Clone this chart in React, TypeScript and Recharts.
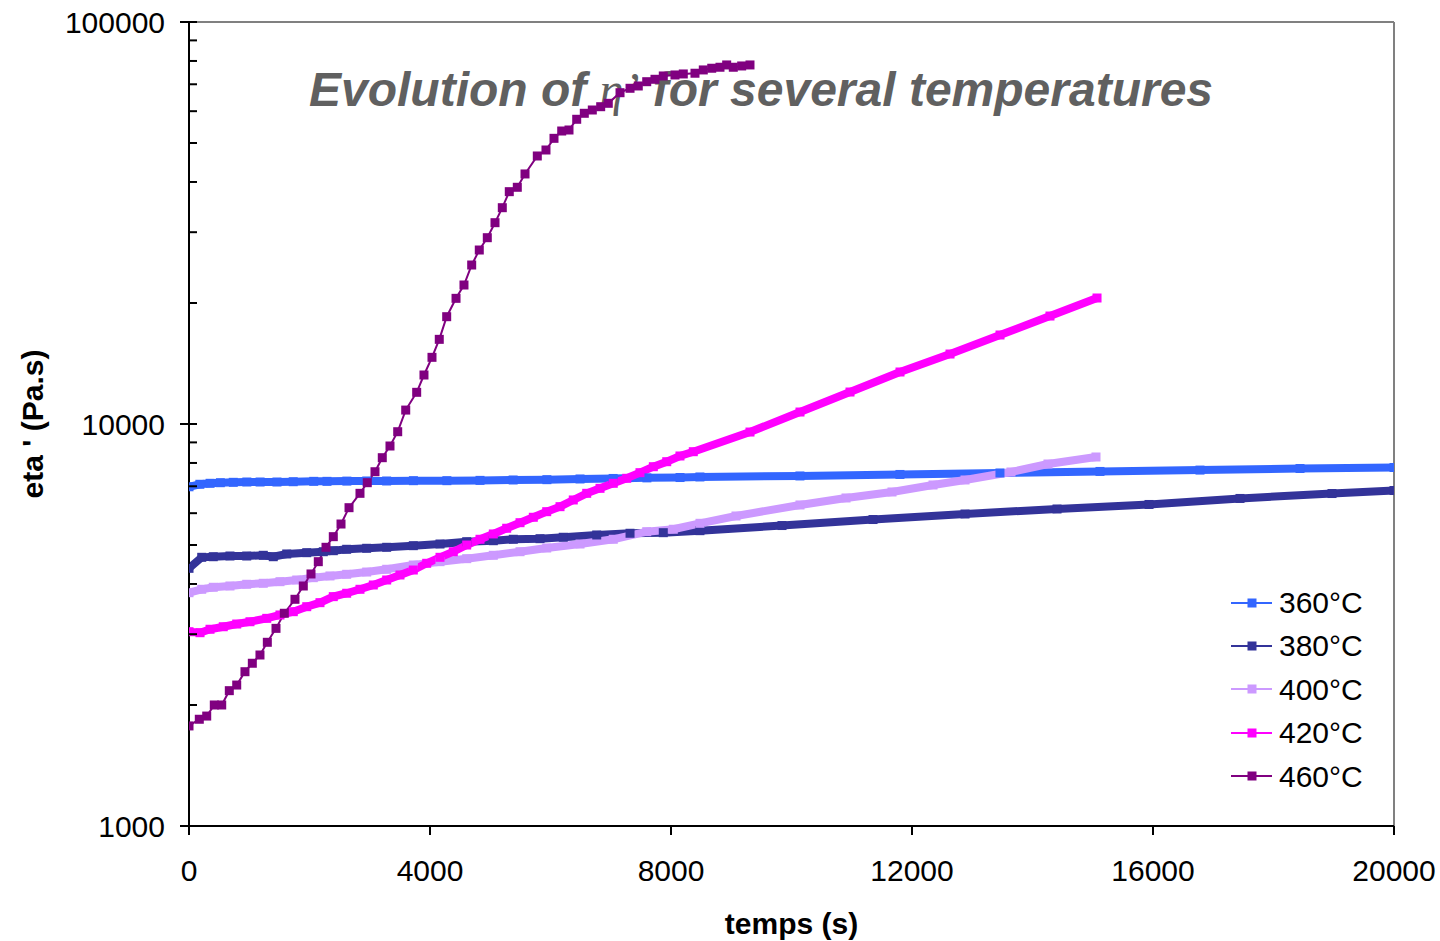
import React from "react";
import { LineChart, Line, XAxis, YAxis, ReferenceLine, Legend } from "recharts";

// time (s) and eta' (Pa.s), one pair of arrays per temperature
const T360 = [0, 180, 350, 520, 735, 960, 1180, 1460, 1730, 2070, 2290, 2620, 2950, 3280, 3725, 4280, 4830, 5380, 5940, 6490, 7040, 7600, 8150, 8480, 10140, 11800, 13460, 15120, 16780, 18440, 20000];
const V360 = [6980, 7080, 7120, 7145, 7160, 7173, 7173, 7173, 7185, 7200, 7200, 7210, 7215, 7215, 7228, 7228, 7240, 7257, 7270, 7299, 7320, 7345, 7360, 7383, 7426, 7490, 7554, 7620, 7680, 7750, 7795];

const T380 = [0, 211, 403, 680, 958, 1233, 1399, 1622, 1954, 2229, 2395, 2617, 2949, 3281, 3723, 4166, 4609, 5051, 5383, 5826, 6212, 6767, 7320, 7872, 8480, 9842, 11353, 12880, 14407, 15934, 17444, 18971, 20000];
const V380 = [4375, 4660, 4676, 4695, 4695, 4714, 4676, 4750, 4785, 4812, 4840, 4879, 4907, 4935, 4981, 5029, 5096, 5125, 5167, 5185, 5227, 5296, 5348, 5366, 5428, 5590, 5786, 5972, 6146, 6307, 6528, 6715, 6832];

const T400 = [0, 211, 403, 680, 958, 1233, 1510, 1788, 2063, 2340, 2617, 2949, 3281, 3723, 4166, 4609, 5051, 5494, 5937, 6490, 7042, 7597, 8038, 8481, 9079, 10141, 10905, 11668, 12349, 12880, 13643, 14257, 15054];
const V400 = [3805, 3880, 3925, 3954, 3993, 4016, 4053, 4092, 4147, 4188, 4228, 4283, 4351, 4459, 4545, 4624, 4714, 4812, 4915, 5029, 5167, 5397, 5472, 5662, 5904, 6289, 6546, 6775, 7052, 7257, 7596, 7952, 8278];

const T420 = [0, 183, 349, 569, 792, 1012, 1290, 1510, 1731, 1954, 2174, 2395, 2617, 2838, 3059, 3281, 3502, 3723, 3945, 4166, 4387, 4609, 4830, 5051, 5273, 5494, 5715, 5937, 6158, 6378, 6601, 6822, 7042, 7265, 7485, 7707, 7929, 8149, 8370, 9311, 10141, 10971, 11801, 12631, 13461, 14290, 15071];
const V420 = [3043, 3026, 3086, 3131, 3180, 3222, 3285, 3349, 3413, 3512, 3594, 3720, 3793, 3880, 3977, 4092, 4211, 4333, 4503, 4660, 4812, 5000, 5167, 5327, 5504, 5682, 5861, 6052, 6228, 6472, 6723, 6918, 7120, 7327, 7567, 7830, 8058, 8326, 8533, 9550, 10710, 12010, 13470, 14930, 16650, 18560, 20580];

const T460 = [0, 171, 294, 420, 543, 669, 792, 929, 1051, 1178, 1300, 1444, 1582, 1759, 1897, 2025, 2146, 2274, 2395, 2523, 2656, 2838, 2959, 3087, 3208, 3336, 3464, 3597, 3779, 3900, 4033, 4154, 4277, 4432, 4564, 4692, 4818, 4951, 5079, 5200, 5316, 5449, 5577, 5781, 5925, 6058, 6186, 6307, 6435, 6561, 6694, 6833, 6959, 7154, 7320, 7457, 7597, 7734, 7872, 8066, 8204, 8398, 8536, 8676, 8813, 8924, 9034, 9173, 9311];
const V460 = [1774, 1843, 1877, 2000, 2000, 2171, 2242, 2420, 2540, 2663, 2864, 3102, 3382, 3664, 3954, 4236, 4545, 4935, 5245, 5639, 6192, 6723, 7145, 7608, 8245, 8816, 9568, 10830, 11990, 13240, 14650, 16240, 18490, 20540, 22170, 24860, 27090, 29070, 31680, 34520, 37840, 38800, 41880, 46420, 48040, 51360, 53560, 53870, 57280, 59280, 60410, 61560, 62770, 66700, 68410, 69320, 71040, 72030, 73410, 73830, 74260, 74570, 75990, 76730, 77170, 78190, 77170, 77740, 78190];

const X_TICKS = [0, 4000, 8000, 12000, 16000, 20000];
const Y_MAJOR = [1000, 10000, 100000];
const Y_MINOR = [2000, 3000, 4000, 5000, 6000, 7000, 8000, 9000, 20000, 30000, 40000, 50000, 60000, 70000, 80000, 90000];

const FONT = "'Liberation Sans', Arial, sans-serif";
const Y_TICK_SIZE = 8;
const Y_TICK_MARGIN = 16;

const toRows = (t: number[], v: number[]) => t.map((x, i) => ({ t: x, v: v[i] }));

const series = [
  { name: "360°C", color: "#3366FF", data: toRows(T360, V360), dense: true },
  { name: "380°C", color: "#333399", data: toRows(T380, V380), dense: true },
  { name: "400°C", color: "#CC99FF", data: toRows(T400, V400), dense: true },
  { name: "420°C", color: "#FF00FF", data: toRows(T420, V420), dense: true },
  { name: "460°C", color: "#800080", data: toRows(T460, V460), dense: false },
];

// square marker like the spreadsheet one
const squareDot = (size: number, color: string) => (props: any) => {
  const { cx, cy, index } = props;
  if (cx == null || cy == null) return <g key={index} />;
  return <rect key={index} x={cx - size / 2} y={cy - size / 2} width={size} height={size} fill={color} />;
};

const YTick = (props: any) => {
  const { x, y, payload } = props;
  const ax = x + Y_TICK_SIZE + Y_TICK_MARGIN; // axis line position
  const major = Y_MAJOR.includes(payload.value);
  return (
    <g>
      <line x1={major ? ax - 9 : ax} x2={ax + 8} y1={y} y2={y} stroke="#000" strokeWidth={2} />
      {major && (
        <text x={x} y={y} dy="0.355em" textAnchor="end" fontSize={30} fontFamily={FONT} fill="#000">
          {payload.value}
        </text>
      )}
    </g>
  );
};

const YTitle = (props: any) => {
  const { viewBox } = props;
  const x = viewBox.x + 43;
  const y = viewBox.y + viewBox.height / 2;
  return (
    <text x={x} y={y} transform={`rotate(-90, ${x}, ${y})`} textAnchor="middle" fontSize={30} fontWeight="bold" fontFamily={FONT} fill="#000">
      eta ' (Pa.s)
    </text>
  );
};

const XTitle = (props: any) => {
  const { viewBox } = props;
  return (
    <text x={viewBox.x + viewBox.width / 2} y={viewBox.y + 108} textAnchor="middle" fontSize={30} fontWeight="bold" fontFamily={FONT} fill="#000">
      temps (s)
    </text>
  );
};

const renderLegend = (props: any) => {
  const { payload } = props;
  return (
    <div style={{ fontFamily: FONT, fontSize: 30, color: "#000" }}>
      {(payload || []).map((p: any) => (
        <div key={p.value} style={{ display: "flex", alignItems: "center", height: 43.4 }}>
          <svg width={53} height={12}>
            <line x1={5} x2={46} y1={6} y2={6} stroke={p.color} strokeWidth={2} />
            <rect x={21.5} y={1.5} width={9} height={9} fill={p.color} />
          </svg>
          <span style={{ lineHeight: "43.4px" }}>{p.value}</span>
        </div>
      ))}
    </div>
  );
};

const App = () => {
  return (
    <div style={{ position: "absolute", left: 0, top: 0, width: 1440, height: 941, background: "#fff" }}>
      <LineChart width={1440} height={941} margin={{ top: 22, right: 46, bottom: 0, left: 0 }}>
        <XAxis
          type="number"
          dataKey="t"
          domain={[0, 20000]}
          ticks={X_TICKS}
          interval={0}
          allowDataOverflow
          height={115}
          tickSize={9}
          tickMargin={25}
          tick={{ fontSize: 30, fill: "#000", fontFamily: FONT }}
          axisLine={{ stroke: "#000", strokeWidth: 2 }}
          tickLine={{ stroke: "#000", strokeWidth: 2 }}
          label={<XTitle />}
        />
        <YAxis
          type="number"
          scale="log"
          domain={[1000, 100000]}
          ticks={[...Y_MAJOR, ...Y_MINOR].sort((a, b) => a - b)}
          interval={0}
          allowDataOverflow
          width={189}
          tickSize={Y_TICK_SIZE}
          tickMargin={Y_TICK_MARGIN}
          tickLine={false}
          tick={<YTick />}
          axisLine={{ stroke: "#000", strokeWidth: 2 }}
          label={<YTitle />}
        />
        <ReferenceLine y={100000} stroke="#808080" strokeWidth={2} />
        <ReferenceLine x={20000} stroke="#808080" strokeWidth={2} />
        {series.map((s) => (
          <Line
            key={s.name}
            name={s.name}
            data={s.data}
            dataKey="v"
            type="linear"
            stroke={s.color}
            strokeWidth={s.dense ? 8 : 2}
            dot={squareDot(9, s.color)}
            activeDot={false}
            isAnimationActive={false}
          />
        ))}
        <Legend
          layout="vertical"
          align="center"
          verticalAlign="middle"
          wrapperStyle={{ left: 1226, top: 581, width: 180, height: 220 }}
          content={renderLegend}
        />
        <text x={761} y={106} textAnchor="middle" fontSize={48} fontWeight="bold" fontStyle="italic" fontFamily={FONT} fill="#606060">
          Evolution of{" "}
          <tspan fontFamily="'Liberation Serif', 'Times New Roman', serif" fontWeight="normal">
            η’
          </tspan>{" "}
          for several temperatures
        </text>
      </LineChart>
    </div>
  );
};

export default App;
